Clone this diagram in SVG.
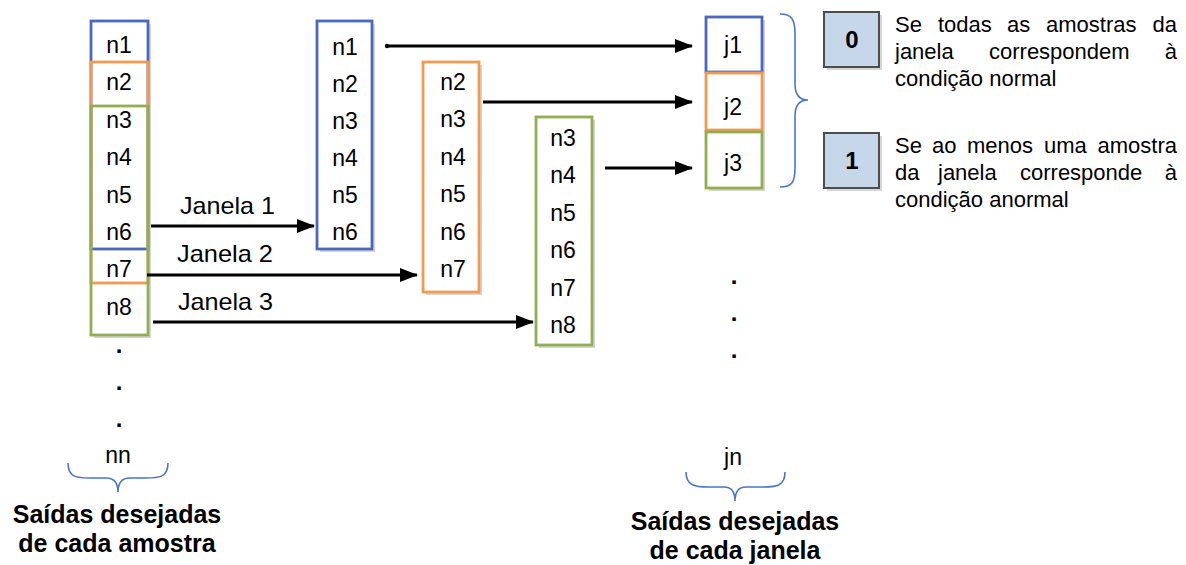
<svg xmlns="http://www.w3.org/2000/svg" width="1186" height="565" viewBox="0 0 1186 565">
  <style>
    text { font-family: "Liberation Sans", Arial, sans-serif; fill: #000; }
    .t { font-size: 23px; text-anchor: middle; }
    .lbl { font-size: 24px; }
    .desc { font-size: 22px; }
    .b { font-size: 25px; font-weight: bold; text-anchor: middle; }
    .bit { font-size: 24px; font-weight: bold; text-anchor: middle; }
    .dot { font-size: 24px; font-weight: bold; text-anchor: middle; }
    .shadow { fill: #d6d6d6; }
    .box { fill: #fff; stroke-width: 2.8; }
    .frame { fill: none; stroke-width: 2.8; }
    .blue { stroke: #4a68c0; }
    .orange { stroke: #f09a52; }
    .green { stroke: #93ad52; }
    .bitbox { fill: #c6d7ea; stroke: #4d4d4d; stroke-width: 2; }
    .brace { fill: none; stroke: #4a76c8; stroke-width: 1.6; }
    .arrow { fill: none; stroke: #000; stroke-width: 2.8; marker-end: url(#head); }
  </style>
  <defs>
    <marker id="head" markerUnits="userSpaceOnUse" markerWidth="18" markerHeight="14" refX="17" refY="7" orient="auto">
      <path d="M0,0 L18,7 L0,14 z" fill="#000"/>
    </marker>
  </defs>

  <!-- sample column n1..nn with the three overlapping windows -->
  <g id="samples">
    <rect class="shadow" x="94" y="24" width="57" height="314"/>
    <rect x="91" y="21" width="57" height="314" fill="#fff"/>
    <rect class="frame blue" x="91" y="21" width="57" height="228"/>
    <rect class="frame orange" x="91" y="62" width="57" height="221"/>
    <rect class="frame green" x="91" y="106" width="57" height="229"/>
    <text class="t" x="119" y="53">n1</text>
    <text class="t" x="119" y="90">n2</text>
    <text class="t" x="119" y="128">n3</text>
    <text class="t" x="119" y="165">n4</text>
    <text class="t" x="119" y="203">n5</text>
    <text class="t" x="119" y="240">n6</text>
    <text class="t" x="119" y="277">n7</text>
    <text class="t" x="119" y="315">n8</text>
    <text class="dot" x="119" y="353">.</text>
    <text class="dot" x="119" y="390">.</text>
    <text class="dot" x="119" y="427">.</text>
    <text class="t" x="118" y="463">nn</text>
    <path class="brace" d="M68,463 C68,478 78,478 90,478 L106,478 C114,478 118,482 118,492 C118,482 122,478 130,478 L146,478 C158,478 168,478 168,463"/>
    <text class="b" x="117" y="523">Saídas desejadas</text>
    <text class="b" x="117" y="552">de cada amostra</text>
  </g>

  <!-- window 1 -->
  <g id="window1">
    <rect class="shadow" x="320" y="24" width="55" height="228"/>
    <rect class="box blue" x="317" y="21" width="55" height="228"/>
    <text class="t" x="345" y="55">n1</text>
    <text class="t" x="345" y="92">n2</text>
    <text class="t" x="345" y="129">n3</text>
    <text class="t" x="345" y="166">n4</text>
    <text class="t" x="345" y="203">n5</text>
    <text class="t" x="345" y="240">n6</text>
  </g>

  <!-- window 2 -->
  <g id="window2">
    <rect class="shadow" x="426" y="65" width="56" height="230"/>
    <rect class="box orange" x="423" y="62" width="56" height="230"/>
    <text class="t" x="453" y="90">n2</text>
    <text class="t" x="453" y="127">n3</text>
    <text class="t" x="453" y="165">n4</text>
    <text class="t" x="453" y="202">n5</text>
    <text class="t" x="453" y="240">n6</text>
    <text class="t" x="453" y="277">n7</text>
  </g>

  <!-- window 3 -->
  <g id="window3">
    <rect class="shadow" x="539" y="120" width="56" height="228"/>
    <rect class="box green" x="536" y="117" width="56" height="228"/>
    <text class="t" x="563" y="146">n3</text>
    <text class="t" x="563" y="183">n4</text>
    <text class="t" x="563" y="221">n5</text>
    <text class="t" x="563" y="258">n6</text>
    <text class="t" x="563" y="296">n7</text>
    <text class="t" x="563" y="333">n8</text>
  </g>

  <!-- window outputs j1..jn -->
  <g id="outputs">
    <rect class="shadow" x="709" y="20" width="56" height="171"/>
    <rect class="box blue" x="706" y="17" width="56" height="55"/>
    <rect class="box orange" x="706" y="73" width="56" height="57"/>
    <rect class="box green" x="706" y="132" width="56" height="56"/>
    <text class="t" x="733" y="53">j1</text>
    <text class="t" x="733" y="115">j2</text>
    <text class="t" x="733" y="171">j3</text>
    <path class="brace" d="M780,14 C792,14 795,20 795,34 L795,84 C795,94 799,100 808,100 C799,100 795,106 795,116 L795,168 C795,182 792,187 780,187"/>
    <text class="dot" x="734" y="284">.</text>
    <text class="dot" x="734" y="321">.</text>
    <text class="dot" x="734" y="358">.</text>
    <text class="t" x="733" y="465">jn</text>
    <path class="brace" d="M686,472 C686,486 696,487 708,487 L724,487 C731,487 735,491 735,501 C735,491 739,487 746,487 L764,487 C776,487 785,486 785,472"/>
    <text class="b" x="735" y="530">Saídas desejadas</text>
    <text class="b" x="735" y="559">de cada janela</text>
  </g>

  <!-- legend: bit 0 -->
  <g id="bit0">
    <rect class="shadow" x="827" y="15" width="55" height="55"/>
    <rect class="bitbox" x="824" y="12" width="55" height="55"/>
    <text class="bit" x="852" y="48">0</text>
    <text class="desc" y="32"><tspan x="895">Se</tspan><tspan x="938">todas</tspan><tspan x="1007">as</tspan><tspan x="1046">amostras</tspan><tspan x="1177" text-anchor="end">da</tspan></text>
    <text class="desc" y="59"><tspan x="895">janela</tspan><tspan x="989">correspondem</tspan><tspan x="1177" text-anchor="end">à</tspan></text>
    <text class="desc" x="895" y="86">condição normal</text>
  </g>

  <!-- legend: bit 1 -->
  <g id="bit1">
    <rect class="shadow" x="827" y="136" width="55" height="55"/>
    <rect class="bitbox" x="824" y="133" width="55" height="55"/>
    <text class="bit" x="852" y="169">1</text>
    <text class="desc" y="153"><tspan x="895">Se</tspan><tspan x="932">ao</tspan><tspan x="967">menos</tspan><tspan x="1044">uma</tspan><tspan x="1177" text-anchor="end">amostra</tspan></text>
    <text class="desc" y="180"><tspan x="895">da</tspan><tspan x="938">janela</tspan><tspan x="1020">corresponde</tspan><tspan x="1177" text-anchor="end">à</tspan></text>
    <text class="desc" x="895" y="207">condição anormal</text>
  </g>

  <!-- connectors -->
  <g id="connectors">
    <path class="arrow" d="M151,226 H314"/>
    <path class="arrow" d="M147,275 H417"/>
    <path class="arrow" d="M153,322 H533"/>
    <circle cx="387" cy="46" r="2.2" fill="#000"/>
    <path class="arrow" d="M387,46 H692"/>
    <path class="arrow" d="M483,102 H692"/>
    <path class="arrow" d="M605,168 H692"/>
    <text class="lbl" x="180" y="214" textLength="95" lengthAdjust="spacingAndGlyphs">Janela 1</text>
    <text class="lbl" x="177" y="262" textLength="96" lengthAdjust="spacingAndGlyphs">Janela 2</text>
    <text class="lbl" x="178" y="310" textLength="95" lengthAdjust="spacingAndGlyphs">Janela 3</text>
  </g>
</svg>
